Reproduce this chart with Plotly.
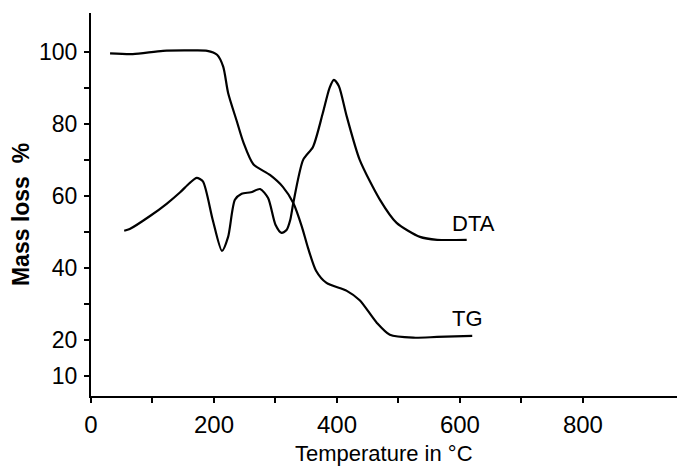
import plotly.graph_objects as go

# TG curve (mass loss %) vs temperature
tg_temp = [31, 68, 117, 160, 189, 205, 215, 223, 237, 248, 264, 291, 312, 329, 343, 353, 366, 383, 416, 437, 465, 486, 524, 563, 620]
tg_mass = [99.6, 99.4, 100.3, 100.4, 100.3, 99.2, 95.9, 88.6, 80.8, 74.8, 68.8, 65.8, 62.5, 58, 51.4, 45.5, 39.2, 35.8, 33.6, 31, 24.7, 21.4, 20.6, 20.8, 21.1]

# DTA curve (arbitrary, drawn on same scale)
dta_temp = [54, 63, 96, 123, 145, 160, 172, 182, 198, 213, 223, 234, 245, 260, 275, 288, 300, 310, 318, 324, 329, 345, 361, 377, 388, 395, 403, 416, 437, 470, 497, 535, 563, 611]
dta_val = [50.3, 50.8, 54.4, 57.8, 61, 63.5, 65, 64, 53.3, 44.7, 48.6, 58.9, 60.6, 61, 61.9, 59.4, 52, 49.7, 50.5, 53.3, 58, 70, 73.6, 83, 90, 92.2, 90.5, 82, 70, 58.9, 52.5, 48.6, 47.8, 47.8]

x_ticks = [0, 100, 200, 300, 400, 500, 600, 700, 800]
x_ticktext = ["0", "", "200", "", "400", "", "600", "", "800"]
y_ticks = [10, 20, 30, 40, 50, 60, 70, 80, 90, 100]
y_ticktext = ["10", "20", "", "40", "", "60", "", "80", "", "100"]

FONT = "Liberation Sans"

fig = go.Figure()
fig.add_trace(go.Scatter(x=tg_temp, y=tg_mass, mode="lines",
                         line=dict(color="black", width=2.2, shape="spline", smoothing=0.7),
                         showlegend=False, hoverinfo="skip"))
fig.add_trace(go.Scatter(x=dta_temp, y=dta_val, mode="lines",
                         line=dict(color="black", width=2.2, shape="spline", smoothing=0.7),
                         showlegend=False, hoverinfo="skip"))

fig.add_annotation(x=584, y=52.2, text="DTA", showarrow=False, xanchor="left", yanchor="middle",
                   font=dict(family=FONT, size=22, color="black"))
fig.add_annotation(x=584, y=26, text="TG", showarrow=False, xanchor="left", yanchor="middle",
                   font=dict(family=FONT, size=22, color="black"))

# Axis titles
fig.add_annotation(xref="paper", yref="paper", x=0.5, y=-0.151, text="Temperature in °C",
                   showarrow=False, xanchor="center", yanchor="middle",
                   font=dict(family=FONT, size=22, color="black"))
fig.add_annotation(xref="paper", yref="paper", x=-0.1195, y=0.475, text="<b>Mass loss  %</b>",
                   showarrow=False, xanchor="center", yanchor="middle", textangle=-90,
                   font=dict(family=FONT, size=23, color="black"))

fig.update_layout(
    width=677, height=468,
    margin=dict(l=91, r=0, t=13, b=72),
    paper_bgcolor="white", plot_bgcolor="white",
    font=dict(family=FONT, color="black"),
    xaxis=dict(range=[0, 953], showgrid=False, zeroline=False, showline=True,
               linecolor="black", linewidth=2, ticks="outside", ticklen=5, tickwidth=2,
               tickcolor="black", tickvals=x_ticks, ticktext=x_ticktext,
               tickfont=dict(family=FONT, size=24, color="black"), ticklabelstandoff=1),
    yaxis=dict(range=[4.4, 110.8], showgrid=False, zeroline=False, showline=True,
               linecolor="black", linewidth=2, ticks="outside", ticklen=5, tickwidth=2,
               tickcolor="black", tickvals=y_ticks, ticktext=y_ticktext,
               tickfont=dict(family=FONT, size=23, color="black"), ticklabelstandoff=2),
)

fig.write_html("out.html")
